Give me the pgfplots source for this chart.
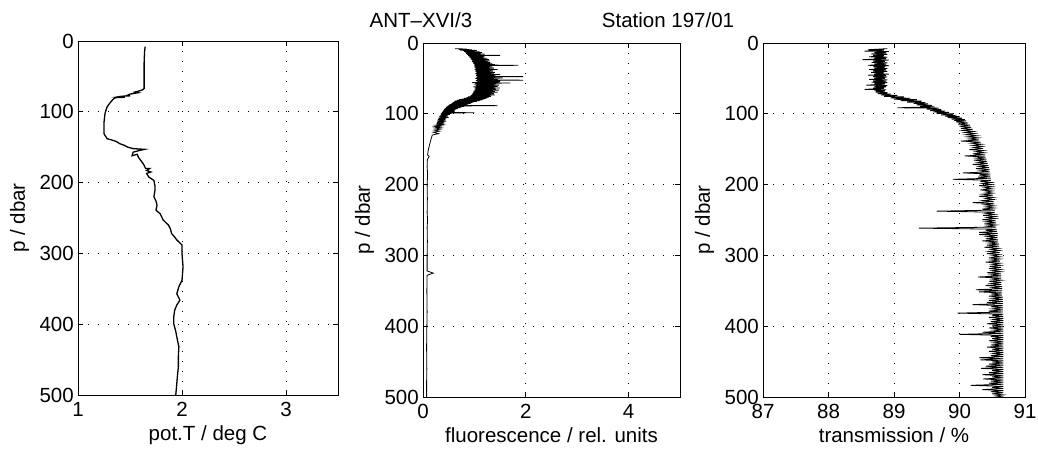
\documentclass[border=0pt]{standalone}
\usepackage{fontspec}
\setmainfont{Liberation Sans}
\usepackage{pgfplots}
\pgfplotsset{compat=1.18}
\pgfplotsset{
  prof/.style={
    scale only axis, height=354pt,
    y dir=reverse, ymin=0, ymax=500, ytick={0,100,200,300,400,500},
    grid=major,
    grid style={black, line width=0.8pt, dash pattern=on 1pt off 9pt},
    tick align=inside, major tick length=5pt,
    axis line style={black, line width=0.8pt},
    tick style={black, line width=0.7pt},
    ylabel={p / dbar},
    every tick label/.append style={font=\fontsize{20.5}{24}\selectfont, inner sep=1pt},
    label style={font=\fontsize{20.5}{24}\selectfont},
    xticklabel style={yshift=-6pt},
    yticklabel style={xshift=-3pt},
    ylabel shift=6pt, xlabel shift=4pt,
    /pgf/number format/assume math mode=true,
    anchor=south west,
  }
}
\begin{document}
\begin{tikzpicture}[x=1pt,y=1pt]
\useasboundingbox (0,0) rectangle (1038,459);
\node[font=\fontsize{20.5}{24}\selectfont] at (421,439) {ANT--XVI/3};
\node[font=\fontsize{20.5}{24}\selectfont] at (668,439) {Station 197/01};

% Panel 1: potential temperature
\begin{axis}[prof, at={(78pt,64pt)}, width=260pt,
  xmin=1, xmax=3.5, xtick={1,2,3}, xlabel={pot.T / deg C}]
\addplot[black, line width=1.3pt] coordinates {
(1.646,8)(1.640,15)(1.636,30)(1.636,50)(1.636,67)(1.62,69)(1.60,70)(1.55,72)(1.58,73)(1.50,75)(1.47,77)(1.50,77.5)(1.42,78)(1.38,79)(1.45,79.5)(1.36,80)(1.34,82)(1.31,87)(1.28,93)(1.26,102)(1.25,115)(1.25,131)(1.28,138)(1.33,140)(1.37,142)(1.40,145)(1.44,147)(1.48,150)(1.53,152)(1.64,153)(1.58,155)(1.53,157)(1.52,162)(1.57,160)(1.58,164)(1.60,168)(1.63,174)(1.65,180)(1.69,180)(1.66,183)(1.70,185)(1.66,187)(1.68,192)(1.73,197)(1.74,205)(1.74,211)(1.73,220)(1.75,226)(1.76,232)(1.75,239)(1.79,244)(1.82,253)(1.87,260)(1.89,266)(1.90,272)(1.93,277)(1.95,281)(2.00,288)(2.00,300)(2.01,319)(2.00,338)(1.97,347)(1.95,357)(1.98,366)(1.95,373)(1.93,380)(1.92,390)(1.92,399)(1.94,410)(1.95,418)(1.97,432)(1.965,445)(1.965,460)(1.955,475)(1.95,484)(1.94,500)
};
\end{axis}

% Panel 2: fluorescence
\begin{axis}[prof, at={(423pt,62pt)}, width=257pt,
  xmin=0, xmax=5, xtick={0,2,4}, xlabel={fluorescence / rel. units}]
\addplot[black, line width=0.8pt] coordinates {
(0.62,8)(0.85,8.5)(0.70,9)(0.95,9.5)(0.72,10)(1.05,10.5)(0.78,11)(1.00,11.5)(0.80,12)(1.10,12.5)(0.82,13)(1.15,13.5)(0.85,14)(1.05,14.5)(0.84,15)(1.20,15.5)(0.86,16)(1.12,16.5)(0.88,17)(1.50,17.5)(0.88,18)(1.18,18.5)(0.90,19)(1.20,19.5)
(0.90,20)(1.15,20.5)(0.92,21)(1.25,21.5)(0.93,22)(1.20,22.5)(0.93,23)(1.28,23.5)(0.95,24)(1.22,24.5)(0.96,25)(1.30,25.5)(0.95,26)(1.25,26.5)(0.97,27)(1.30,27.5)(0.98,28)(1.35,28.5)(0.98,29)(1.30,29.5)
(1.00,30)(1.40,30.5)(1.00,31)(1.85,31.5)(1.00,32)(1.30,32.5)(1.02,33)(1.35,33.5)(1.00,34)(1.28,34.5)(1.02,35)(1.38,35.5)(1.03,36)(1.30,36.5)(1.00,37)(1.45,37.5)(1.02,38)(1.32,38.5)(1.04,39)(1.36,39.5)
(1.02,40)(1.30,40.5)(1.03,41)(1.40,41.5)(1.05,42)(1.33,42.5)(1.02,43)(1.38,43.5)(1.04,44)(1.50,44.5)(1.05,45)(1.35,45.5)(1.03,46)(1.42,46.5)(1.06,47)(1.95,47.5)(1.04,48)(1.40,48.5)(1.05,49)(1.55,49.5)
(1.02,50)(1.38,50.5)(1.06,51)(1.45,51.5)(1.05,52)(1.95,52.5)(1.03,53)(1.42,53.5)(1.06,54)(1.50,54.5)(1.04,55)(1.40,55.5)(0.95,56)(1.70,56.5)(1.02,57)(1.42,57.5)(1.05,58)(1.38,58.5)(1.00,59)(1.48,59.5)
(1.03,60)(1.40,60.5)(1.04,61)(1.45,61.5)(0.98,62)(1.38,62.5)(1.02,63)(1.50,63.5)(1.03,64)(1.40,64.5)(1.00,65)(1.42,65.5)(1.02,66)(1.48,66.5)(1.01,67)(1.36,67.5)(0.98,68)(1.40,68.5)(1.00,69)(1.45,69.5)
(0.98,70)(1.35,70.5)(0.97,71)(1.38,71.5)(0.95,72)(1.32,72.5)(0.96,73)(1.40,73.5)(0.93,74)(1.30,74.5)(0.92,75)(1.32,75.5)(0.88,76)(1.28,76.5)(0.85,77)(1.25,77.5)(0.80,78)(1.22,78.5)(0.75,79)(1.18,79.5)
(0.70,80)(1.15,80.5)(0.66,81)(1.10,81.5)(0.62,82)(1.05,82.5)(0.60,83)(0.98,83.5)(0.58,84)(0.95,84.5)(0.56,85)(0.92,85.5)(0.55,86)(0.88,86.5)(0.52,87)(0.85,87.5)(0.50,88)(1.45,88.5)(0.48,89)(0.80,89.5)
(0.46,90)(0.75,90.5)(0.45,91)(0.72,91.5)(0.44,92)(0.68,92.5)(0.42,93)(0.65,93.5)(0.41,94)(0.62,94.5)(0.40,95)(0.60,95.5)(0.39,96)(0.62,96.5)(0.38,97)(0.58,97.5)(0.37,98)(1.00,98.5)(0.36,99)(0.55,99.5)
(0.35,100)(0.52,101)(0.33,102)(0.48,103)(0.32,104)(0.50,105)(0.30,106)(0.45,107)(0.29,108)(0.44,109)(0.28,110)(0.40,111)(0.27,112)(0.42,113)(0.26,114)(0.38,115)(0.25,116)(0.36,117)(0.24,118)(0.34,119)(0.23,120)(0.35,121.5)(0.22,123)(0.32,124.5)(0.20,126)(0.30,128)
(0.18,130)(0.16,135)(0.14,140)(0.12,146)(0.10,152)(0.09,158)(0.12,160)(0.085,165)(0.08,175)(0.09,185)(0.08,200)(0.085,220)(0.08,240)(0.09,250)(0.08,260)(0.085,280)(0.08,300)(0.08,322)(0.20,325)(0.08,328)(0.075,350)(0.08,380)(0.075,400)(0.07,430)(0.075,460)(0.07,480)(0.07,500)
};
\end{axis}

% Panel 3: transmission
\begin{axis}[prof, at={(763pt,62pt)}, width=262pt,
  xmin=87, xmax=91, xtick={87,88,89,90,91}, xlabel={transmission / \%}]
\addplot[black, line width=0.8pt] coordinates {
(88.90,8)(88.60,9.5)(88.85,10)(88.55,11.5)(88.92,12)(88.70,13.5)(88.88,14)(88.65,15.5)(88.90,16)(88.68,17.5)(88.85,18)(88.62,19.5)(88.90,20)(88.70,21.5)(88.88,22)(88.52,23.5)(88.92,24)(88.68,25.5)(88.86,26)(88.66,27.5)(88.90,28)(88.70,29.5)
(88.88,30)(88.60,31.5)(88.92,32)(88.68,33.5)(88.86,34)(88.70,35.5)(88.90,36)(88.62,37.5)(88.88,38)(88.68,39.5)(88.90,40)(88.65,41.5)(88.85,42)(88.70,43.5)(88.92,44)(88.60,45.5)(88.88,46)(88.68,47.5)(88.90,48)(88.70,49.5)
(88.86,50)(88.62,51.5)(88.90,52)(88.68,53.5)(88.88,54)(88.66,55.5)(88.90,56)(88.70,57.5)(88.86,58)(88.58,59.5)(88.90,60)(88.70,61.5)(88.88,62)(88.68,63.5)(88.85,64)(88.55,65.5)(88.88,66)(88.70,67.5)(88.86,68)(88.72,69.5)
(88.90,70)(88.75,71.5)(88.95,72)(88.80,73.5)(89.05,74)(88.85,75.5)(89.15,76)(88.95,77.5)(89.25,78)(89.00,79.5)(89.35,80)(89.10,81.5)(89.42,82)(89.20,83.5)(89.48,84)(89.30,85.5)(89.52,86)(89.35,87.5)(89.58,88)(89.40,89.5)
(89.62,90)(89.05,91.5)(89.68,92)(89.50,93.5)(89.72,94)(89.55,95.5)(89.78,96)(89.60,97.5)(89.84,98)(89.65,99.5)(89.90,100)(89.72,101.5)(89.95,102)(89.78,103.5)(90.00,104)(89.82,105.5)(90.04,106)(89.88,107.5)(90.08,108)(89.92,109.5)
(90.10,110)(89.95,111.5)(90.13,113)(89.98,114.5)(90.16,116)(90.00,117.5)(90.18,119)(90.02,120.5)(90.20,122)(90.05,123.5)(90.22,125)(90.08,126.5)(90.24,128)(90.10,129.5)(90.27,131)(90.12,132.5)(90.29,134)(90.15,135.5)(90.30,137)(90.02,138.5)
(90.32,140)(90.18,141.5)(90.34,143)(90.20,144.5)(90.35,146)(90.22,147.5)(90.36,149)(90.15,150.5)(90.37,152)(90.25,153.5)(90.38,155)(90.20,156.5)(90.39,158)(90.08,159.5)(90.40,161)(90.25,162.5)(90.41,164)(90.22,165.5)(90.42,167)(90.28,168.5)
(90.43,170)(90.20,171.5)(90.44,173)(90.30,174.5)(90.45,176)(90.25,177.5)(90.46,179)(90.32,180.5)(90.46,182)(90.05,183.5)(90.47,185)(90.30,186.5)(90.47,188)(90.28,189.5)(90.48,191)(89.90,192.5)(90.48,194)(90.32,195.5)(90.49,197)(90.35,198.5)
(90.49,200)(90.30,201.5)(90.50,203)(90.38,204.5)(90.50,206)(90.32,207.5)(90.50,209)(90.40,210.5)(90.51,212)(90.35,213.5)(90.51,215)(90.30,216.5)(90.52,218)(90.40,219.5)(90.52,221)(90.36,222.5)(90.52,224)(90.20,225.5)(90.53,227)(90.38,228.5)
(90.53,230)(90.40,231.5)(90.53,233)(90.35,234.5)(90.54,236)(89.65,237.5)(90.54,239)(90.40,240.5)(90.54,242)(90.36,243.5)(90.55,245)(90.42,246.5)(90.55,248)(90.35,249.5)(90.55,251)(90.40,252.5)(90.56,254)(90.38,255.5)(90.56,257)(90.42,258.5)
(90.56,260)(89.38,261.5)(90.57,263)(90.40,264.5)(90.57,266)(90.30,267.5)(90.58,269)(90.30,270.5)(90.58,272)(90.42,273.5)(90.58,275)(90.40,276.5)(90.59,278)(90.35,279.5)(90.59,281)(90.45,282.5)(90.60,284)(90.42,285.5)(90.60,287)(90.38,288.5)
(90.60,290)(90.48,291.5)(90.61,293)(90.45,294.5)(90.61,296)(90.42,297.5)(90.61,299)(90.50,300.5)(90.62,302)(90.45,303.5)(90.62,305)(90.48,306.5)(90.62,308)(90.40,309.5)(90.62,311)(90.50,312.5)(90.63,314)(90.46,315.5)(90.63,317)(90.45,318.5)
(90.63,320)(90.50,321.5)(90.63,323)(90.42,324.5)(90.63,326)(90.48,327.5)(90.64,329)(90.28,330.5)(90.64,332)(90.50,333.5)(90.64,335)(90.45,336.5)(90.64,338)(90.48,339.5)(90.64,341)(90.40,342.5)(90.65,344)(90.50,345.5)(90.65,347)(90.25,348.5)
(90.65,350)(90.30,351.5)(90.65,353)(90.48,354.5)(90.65,356)(90.45,357.5)(90.66,359)(90.50,360.5)(90.66,362)(90.45,363.5)(90.66,365)(90.42,366.5)(90.66,368)(90.20,369.5)(90.66,371)(90.48,372.5)(90.66,374)(90.50,375.5)(90.66,377)(90.45,378.5)
(90.66,380)(89.97,381.5)(90.67,383)(90.50,384.5)(90.67,386)(90.45,387.5)(90.67,389)(90.52,390.5)(90.67,392)(90.48,393.5)(90.67,395)(90.42,396.5)(90.67,398)(90.50,399.5)(90.67,401)(90.45,402.5)(90.67,404)(90.52,405.5)(90.67,407)(90.35,408.5)
(90.67,410)(90.00,411.5)(90.67,413)(90.48,414.5)(90.67,416)(90.50,417.5)(90.67,419)(90.45,420.5)(90.67,422)(90.52,423.5)(90.67,425)(90.48,426.5)(90.67,428)(90.42,429.5)(90.67,431)(90.50,432.5)(90.67,434)(90.45,435.5)(90.67,437)(90.52,438.5)
(90.67,440)(90.48,441.5)(90.67,443)(90.30,444.5)(90.67,446)(90.32,447.5)(90.67,449)(90.50,450.5)(90.67,452)(90.45,453.5)(90.67,455)(90.40,456.5)(90.67,458)(90.33,459.5)(90.67,461)(90.50,462.5)(90.67,464)(90.45,465.5)(90.67,467)(90.35,468.5)
(90.67,470)(90.50,471.5)(90.67,473)(90.36,474.5)(90.67,476)(90.48,477.5)(90.67,479)(90.45,480.5)(90.67,482)(90.17,483.5)(90.67,485)(90.50,486.5)(90.67,488)(90.35,489.5)(90.67,491)(90.48,492.5)(90.67,494)(90.50,495.5)(90.67,497)(90.55,498.5)(90.67,500)
};
\end{axis}
\end{tikzpicture}
\end{document}
